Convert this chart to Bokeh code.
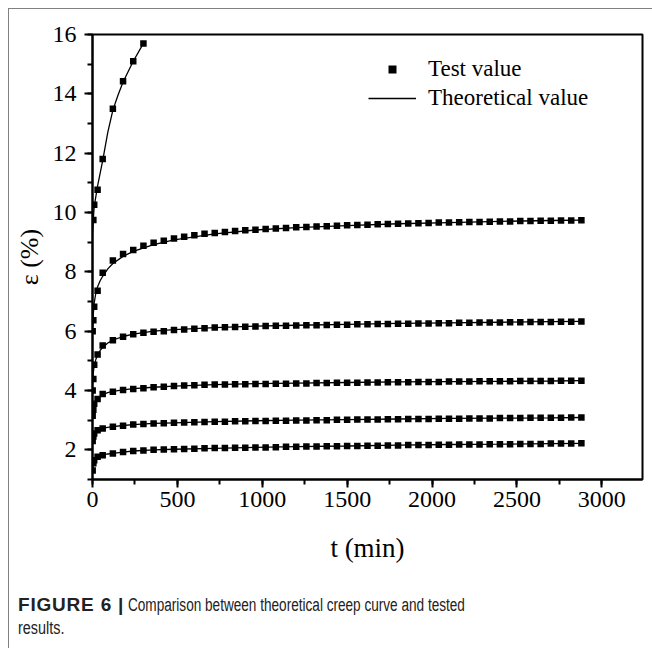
from bokeh.plotting import figure
from bokeh.models import Range1d, SingleIntervalTicker, Legend, LegendItem, Div, Spacer
from bokeh.layouts import column, row
from bokeh.embed import file_html
from bokeh.resources import INLINE

# ---------------- data ----------------
# test times (min): early readings, then hourly
T_EARLY = [1, 5, 10, 30]
T_HOURLY = [60, 120, 180, 240, 300, 360, 420, 480, 540, 600, 660, 720, 780, 840,
            900, 960, 1020, 1080, 1140, 1200, 1260, 1320, 1380, 1440, 1500, 1560,
            1620, 1680, 1740, 1800, 1860, 1920, 1980, 2040, 2100, 2160, 2220, 2280,
            2340, 2400, 2460, 2520, 2580, 2640, 2700, 2760, 2820, 2880]
T_TEST = T_EARLY + T_HOURLY

# curve 1 (highest load, short test)
T1_TEST = [5, 10, 30, 60, 120, 180, 240, 300]
E1_TEST = [9.75, 10.26, 10.77, 11.80, 13.50, 14.42, 15.10, 15.70]

E2_TEST = [6.00, 6.37, 6.82, 7.36, 7.97, 8.38, 8.60, 8.74, 8.88, 8.98, 9.05, 9.12,
           9.18, 9.23, 9.28, 9.31, 9.34, 9.38,
           9.40, 9.42, 9.44, 9.46, 9.48, 9.50, 9.51, 9.53, 9.54, 9.55,
           9.57, 9.58, 9.59, 9.60, 9.61, 9.62, 9.63, 9.64, 9.65, 9.66,
           9.66, 9.67, 9.68, 9.68, 9.69, 9.70, 9.70, 9.71, 9.71, 9.72,
           9.72, 9.73, 9.73, 9.74]
E3_TEST = [4.00, 4.39, 4.87, 5.21, 5.52, 5.69, 5.81, 5.90, 5.95, 5.98, 6.00, 6.04,
           6.06, 6.08, 6.10, 6.12, 6.13, 6.14,
           6.15, 6.16, 6.17, 6.18, 6.18, 6.19, 6.20, 6.20, 6.21, 6.22,
           6.22, 6.23, 6.23, 6.24, 6.24, 6.25, 6.25, 6.26, 6.26, 6.27,
           6.27, 6.28, 6.28, 6.29, 6.29, 6.29, 6.30, 6.30, 6.31, 6.31,
           6.31, 6.32, 6.32, 6.33]
E4_TEST = [3.15, 3.35, 3.55, 3.71, 3.88, 3.96, 4.02, 4.05, 4.08, 4.11, 4.13, 4.15,
           4.17, 4.18, 4.19, 4.20, 4.20, 4.21,
           4.21, 4.22, 4.22, 4.23, 4.23, 4.24, 4.24, 4.25, 4.25, 4.26,
           4.26, 4.26, 4.27, 4.27, 4.28, 4.28, 4.28, 4.29, 4.29, 4.29,
           4.30, 4.30, 4.30, 4.31, 4.31, 4.31, 4.31, 4.32, 4.32, 4.32,
           4.32, 4.33, 4.33, 4.33]
E5_TEST = [2.30, 2.45, 2.55, 2.66, 2.72, 2.78, 2.81, 2.85, 2.87, 2.89, 2.90, 2.91,
           2.92, 2.93, 2.94, 2.95, 2.95, 2.96,
           2.96, 2.97, 2.97, 2.98, 2.98, 2.99, 2.99, 3.00, 3.00, 3.01,
           3.01, 3.02, 3.02, 3.02, 3.03, 3.03, 3.04, 3.04, 3.04, 3.05,
           3.05, 3.05, 3.06, 3.06, 3.06, 3.07, 3.07, 3.07, 3.08, 3.08,
           3.08, 3.08, 3.09, 3.09]
E6_TEST = [1.30, 1.55, 1.65, 1.77, 1.82, 1.88, 1.93, 1.96, 1.98, 2.00, 2.01, 2.02,
           2.03, 2.04, 2.05, 2.06, 2.06, 2.07,
           2.07, 2.08, 2.08, 2.09, 2.10, 2.10, 2.11, 2.11, 2.12, 2.12,
           2.13, 2.13, 2.14, 2.14, 2.15, 2.15, 2.16, 2.16, 2.16, 2.17,
           2.17, 2.18, 2.18, 2.18, 2.19, 2.19, 2.19, 2.20, 2.20, 2.20,
           2.21, 2.21, 2.21, 2.22]

# theoretical curves
T1_THEORY = [0, 5, 10, 30, 60, 90, 120, 150, 180, 240, 300]
E1_THEORY = [9.30, 9.80, 10.20, 10.90, 11.75, 12.70, 13.45, 13.95, 14.40, 15.10, 15.70]

T_THEORY = [0, 5, 10, 20, 30, 45, 60, 90, 120, 180, 240, 360, 480, 720, 960,
            1200, 1500, 1800, 2100, 2400, 2700, 2880]
E2_THEORY = [6.00, 6.60, 6.95, 7.30, 7.50, 7.70, 7.85, 8.10, 8.28, 8.52, 8.69, 8.92,
             9.08, 9.28, 9.41, 9.49, 9.56, 9.62, 9.66, 9.70, 9.73, 9.74]
E3_THEORY = [4.20, 4.60, 4.85, 5.05, 5.20, 5.35, 5.45, 5.60, 5.70, 5.82, 5.90, 6.00,
             6.05, 6.12, 6.17, 6.20, 6.23, 6.26, 6.28, 6.30, 6.32, 6.33]
E4_THEORY = [3.00, 3.35, 3.50, 3.65, 3.72, 3.80, 3.86, 3.93, 3.97, 4.02, 4.06, 4.11,
             4.15, 4.20, 4.23, 4.25, 4.27, 4.29, 4.30, 4.31, 4.32, 4.33]
E5_THEORY = [2.20, 2.45, 2.55, 2.62, 2.67, 2.70, 2.73, 2.76, 2.78, 2.82, 2.85, 2.89,
             2.91, 2.95, 2.98, 3.00, 3.02, 3.04, 3.06, 3.07, 3.08, 3.09]
E6_THEORY = [1.30, 1.55, 1.65, 1.72, 1.77, 1.80, 1.82, 1.86, 1.88, 1.92, 1.96, 2.00,
             2.02, 2.05, 2.08, 2.11, 2.13, 2.16, 2.18, 2.19, 2.21, 2.22]

X_TICK_INTERVAL = 500
Y_TICK_INTERVAL = 2
CAPTION_BOLD = "FIGURE 6 |"
CAPTION_TEXT = "Comparison between theoretical creep curve and tested"
CAPTION_TEXT2 = "results."

# ---------------- figure ----------------
SERIF = "Liberation Serif"

p = figure(width=643, height=566, output_backend="svg", toolbar_location=None,
           x_range=Range1d(0, 3240), y_range=Range1d(1, 16),
           min_border_left=83, min_border_right=10, min_border_top=25,
           min_border_bottom=96)
p.grid.visible = False
p.outline_line_color = "black"
p.outline_line_width = 2
p.background_fill_color = "white"
p.border_fill_color = "white"

p.xaxis.ticker = SingleIntervalTicker(interval=X_TICK_INTERVAL, num_minor_ticks=2)
p.yaxis.ticker = SingleIntervalTicker(interval=Y_TICK_INTERVAL, num_minor_ticks=2)

for ax in (p.xaxis, p.yaxis):
    ax.axis_line_width = 2
    ax.axis_line_color = "black"
    ax.major_tick_line_width = 2
    ax.minor_tick_line_width = 2
    ax.major_tick_line_color = "black"
    ax.minor_tick_line_color = "black"
    ax.major_tick_out = 8
    ax.major_tick_in = 0
    ax.minor_tick_out = 5
    ax.minor_tick_in = 0
    ax.major_label_text_font = SERIF
    ax.major_label_text_font_size = "24px"
    ax.major_label_text_color = "black"
    ax.axis_label_text_font = SERIF
    ax.axis_label_text_font_style = "normal"
    ax.axis_label_text_color = "black"

p.xaxis.axis_label = "t (min)"
p.yaxis.axis_label = "ε (%)"
p.xaxis.axis_label_text_font_size = "27px"
p.yaxis.axis_label_text_font_size = "26px"
p.xaxis.major_label_standoff = 4
p.xaxis.axis_label_standoff = 23
p.yaxis.major_label_standoff = 8
p.yaxis.axis_label_standoff = 6

test_series = [(T1_TEST, E1_TEST), (T_TEST, E2_TEST), (T_TEST, E3_TEST),
               (T_TEST, E4_TEST), (T_TEST, E5_TEST), (T_TEST, E6_TEST)]
theory_series = [(T1_THEORY, E1_THEORY), (T_THEORY, E2_THEORY), (T_THEORY, E3_THEORY),
                 (T_THEORY, E4_THEORY), (T_THEORY, E5_THEORY), (T_THEORY, E6_THEORY)]

line_renderers = []
for tx, ey in theory_series:
    assert len(tx) == len(ey)
    line_renderers.append(p.line(tx, ey, line_color="black", line_width=1.3))

scatter_renderers = []
for tx, ey in test_series:
    assert len(tx) == len(ey)
    scatter_renderers.append(p.scatter(tx, ey, marker="square", size=6.5,
                                       fill_color="black", line_color="black",
                                       line_width=0))

legend = Legend(items=[LegendItem(label="Test value", renderers=[scatter_renderers[0]]),
                       LegendItem(label="Theoretical value", renderers=[line_renderers[0]])],
                location=(276, 368), orientation="vertical",
                padding=0, margin=0, spacing=3,
                glyph_width=48, glyph_height=20, label_height=20,
                label_standoff=12,
                label_text_font=SERIF, label_text_font_size="23px",
                label_text_color="black",
                border_line_color=None, background_fill_alpha=0)
p.add_layout(legend)

caption = Div(
    text=('<div style="font-family:\'Liberation Sans\',Arial,sans-serif;color:#222;'
          'line-height:21px;padding-top:14px;padding-left:4px;white-space:nowrap;">'
          f'<b style="font-size:19px;letter-spacing:0.8px;">{CAPTION_BOLD}</b> '
          '<span style="display:inline-block;font-size:18px;transform:scaleX(0.755);'
          f'transform-origin:0 50%;">{CAPTION_TEXT}</span><br>'
          '<span style="display:inline-block;font-size:18px;transform:scaleX(0.8);'
          f'transform-origin:0 50%;">{CAPTION_TEXT2}</span></div>'),
    width=643, height=65)

inner = column(p, caption, spacing=0,
               styles={"border-left": "1px solid #808080",
                       "border-top": "1px solid #808080"})

layout = column(Spacer(width=652, height=8),
                row(Spacer(width=8, height=632), inner, spacing=0),
                spacing=0)

open("out.html", "w").write(file_html(layout, INLINE))
